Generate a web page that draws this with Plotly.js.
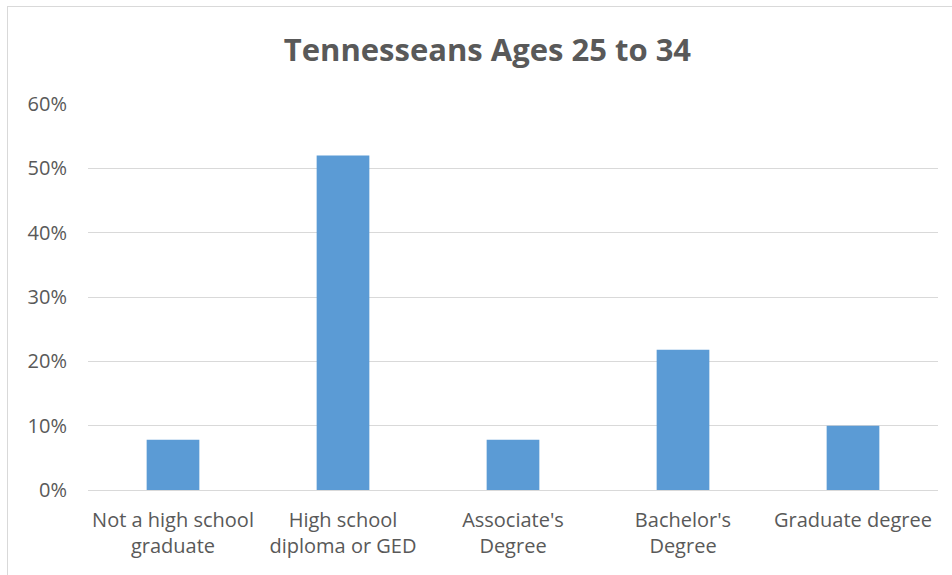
<!DOCTYPE html>
<html>
<head>
<meta charset="utf-8">
<script src="https://cdn.plot.ly/plotly-3.0.1.min.js"></script>
<style>
  html, body { margin: 0; padding: 0; background: #fff; }
  #wrap { position: relative; width: 952px; height: 575px; overflow: hidden; }
  #frame { position: absolute; left: 7px; top: 6px; width: 960px; height: 600px; border: 1px solid #D9D9D9; box-sizing: border-box; pointer-events: none; }
  #chart { position: absolute; left: 0; top: 0; width: 952px; height: 575px; }
</style>
</head>
<body>
<div id="wrap">
  <div id="chart"></div>
  <div id="frame"></div>
</div>
<script>
const categories = [
  "Not a high school<br>graduate",
  "High school<br>diploma or GED",
  "Associate's<br>Degree",
  "Bachelor's<br>Degree",
  "Graduate degree"
];
const shares = [0.078, 0.52, 0.078, 0.218, 0.10];
const yTicks = [0, 0.1, 0.2, 0.3, 0.4, 0.5, 0.6];

const trace = {
  type: "bar",
  x: categories,
  y: shares,
  marker: { color: "#5B9BD5" },
  hoverinfo: "x+y"
};

const layout = {
  width: 952,
  height: 575,
  margin: { l: 88, r: 14, t: 104, b: 85 },
  paper_bgcolor: "rgba(0,0,0,0)",
  plot_bgcolor: "#fff",
  bargap: 0.69,
  showlegend: false,
  title: {
    text: "<b>Tennesseans Ages 25 to 34</b>",
    font: { family: "Open Sans, sans-serif", size: 31, color: "#595959" },
    x: 0.512, xanchor: "center",
    y: 1 - 50 / 575, yanchor: "middle", yref: "container"
  },
  xaxis: {
    type: "category",
    showgrid: false,
    showline: false,
    ticks: "",
    ticklabelstandoff: 16,
    tickfont: { family: "Open Sans, sans-serif", size: 20, color: "#595959" },
    tickangle: 0,
    automargin: false
  },
  yaxis: {
    range: [0, 0.6],
    tickvals: yTicks,
    tickformat: ".0%",
    showgrid: true,
    gridcolor: "#D9D9D9",
    gridwidth: 1,
    zeroline: true,
    zerolinecolor: "#D9D9D9",
    zerolinewidth: 1,
    showline: false,
    ticks: "",
    ticklabelstandoff: 20,
    tickfont: { family: "Open Sans, sans-serif", size: 20, color: "#595959" },
    automargin: false,
    fixedrange: true
  }
};

Plotly.newPlot("chart", [trace], layout, { displayModeBar: false, staticPlot: true });
</script>
</body>
</html>
